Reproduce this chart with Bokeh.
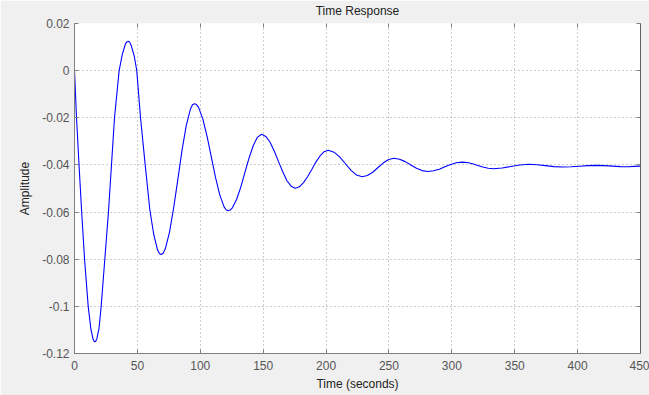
from bokeh.plotting import figure
from bokeh.models import Range1d, LinearAxis, FixedTicker, CustomJSTickFormatter
from bokeh.embed import file_html
from bokeh.resources import INLINE

# Time axis (seconds) and amplitude
time_s = [0.0, 1.6, 3.6, 5.7, 8.0, 10.9, 13.0, 14.8, 15.6, 16.2, 16.9,
          17.8, 19.5, 21.2, 24.1, 27.0, 29.4, 31.8, 35.5, 38.0, 40.5, 41.6, 42.7, 43.8,
          45.0, 47.5, 49.5, 52.5, 56.2, 59.9, 63.0, 66.0, 67.5, 68.9, 70.5,
          72.2, 75.5, 78.8, 82.2, 85.5, 88.8, 92.1, 93.8, 95.4, 97.0,
          98.75, 102.1, 105.45, 108.8, 112.15, 115.5, 118.85, 120.5, 122.2, 123.9,
          125.5, 128.85, 132.2, 135.5, 138.8, 142.15, 145.5, 148.8,
          152.1, 155.5, 158.8, 162.15, 165.5, 168.8, 172.2, 175.5,
          178.8, 182.1, 185.4, 188.65, 191.9, 195.2, 198.5, 201.8,
          206.3, 210.8, 215.25, 219.7, 224.2, 228.7,
          232.9, 237.1, 241.35, 245.6, 249.8, 254.0,
          258.5, 262.9, 267.4, 271.9, 276.3, 280.8,
          285.4, 290.1, 294.5, 299.1, 303.6, 308.2,
          312.3, 316.5, 320.6, 324.7, 328.9, 333.0,
          340.0, 347.0, 354.0, 361.0,
          367.75, 374.5, 381.25, 388.0,
          394.75, 401.5, 408.25, 415.0,
          421.4, 427.75, 434.1, 440.5, 445.0, 450.0]
amplitude = [0.0, -0.020, -0.040, -0.060, -0.080, -0.100, -0.1096, -0.1140, -0.1148, -0.1150, -0.1148,
             -0.1137, -0.1093, -0.100, -0.080, -0.060, -0.040, -0.020, 0.0, 0.0069, 0.0113, 0.0122, 0.0125, 0.0122,
             0.0108, 0.0062, 0.0, -0.020, -0.040, -0.059, -0.0695, -0.0760, -0.0776, -0.0780, -0.0775,
             -0.0756, -0.0686, -0.0583, -0.0460, -0.0337, -0.0234, -0.0164, -0.0145, -0.0140, -0.0144,
             -0.0157, -0.0207, -0.0280, -0.0367, -0.0454, -0.0527, -0.0577, -0.0590, -0.0594, -0.0591,
             -0.0582, -0.05465, -0.0494, -0.0432, -0.0370, -0.03175, -0.0282, -0.0270,
             -0.0279, -0.0304, -0.0341, -0.0385, -0.0428, -0.0466, -0.0490, -0.0499,
             -0.0493, -0.0475, -0.0449, -0.0419, -0.0388, -0.0362, -0.0344, -0.0338,
             -0.0346, -0.0366, -0.0394, -0.0422, -0.0443, -0.0450,
             -0.0445, -0.0431, -0.0411, -0.0391, -0.0377, -0.0372,
             -0.0376, -0.0386, -0.0400, -0.0414, -0.0424, -0.0428,
             -0.0425, -0.0418, -0.0408, -0.0398, -0.0391, -0.0388,
             -0.0390, -0.0395, -0.0402, -0.0409, -0.0414, -0.0416,
             -0.0413, -0.04065, -0.0400, -0.0397,
             -0.0399, -0.0403, -0.0407, -0.0409,
             -0.0408, -0.04055, -0.0403, -0.0402,
             -0.0403, -0.0405, -0.0407, -0.0408, -0.0406, -0.0405]

x_ticks = [0, 50, 100, 150, 200, 250, 300, 350, 400, 450]
y_ticks = [-0.12, -0.1, -0.08, -0.06, -0.04, -0.02, 0, 0.02]

FONT = "Liberation Sans"
AXIS_COLOR = "#808080"
LABEL_COLOR = "#555555"

p = figure(width=649, height=395, output_backend="svg", toolbar_location=None,
           x_range=Range1d(0, 450), y_range=Range1d(-0.12, 0.02),
           min_border_left=74, min_border_right=9, min_border_top=23, min_border_bottom=42,
           background_fill_color="white", border_fill_color="#f0f0f0",
           title="Time Response")
p.outline_line_color = None
p.title.align = "center"
p.title.vertical_align = "top"
p.title.text_font = FONT
p.title.text_font_size = "12px"
p.title.text_font_style = "normal"
p.title.text_color = "#222222"
p.title.standoff = 7

xa = p.below[0]
ya = p.left[0]

yfmt = CustomJSTickFormatter(code="""
let s = tick.toFixed(2).replace(/0+$/, '').replace(/\\.$/, '');
if (s === '-0') { s = '0'; }
return s;
""")
blank = CustomJSTickFormatter(code="return '';")

xa.ticker = FixedTicker(ticks=x_ticks)
xa.axis_label = "Time (seconds)"
ya.ticker = FixedTicker(ticks=y_ticks)
ya.formatter = yfmt
ya.axis_label = "Amplitude"

right = LinearAxis(ticker=FixedTicker(ticks=y_ticks), formatter=blank)
top = LinearAxis(ticker=FixedTicker(ticks=x_ticks), formatter=blank)
p.add_layout(right, "right")
p.add_layout(top, "above")

for ax in [xa, ya, right, top]:
    ax.axis_line_color = AXIS_COLOR
    ax.major_tick_line_color = AXIS_COLOR
    ax.major_tick_in = 4
    ax.major_tick_out = 0
    ax.minor_tick_line_color = None
    ax.major_label_text_font = FONT
    ax.major_label_text_color = LABEL_COLOR
    ax.axis_label_text_font = FONT
    ax.axis_label_text_font_style = "normal"
    ax.axis_label_text_color = "#222222"
for ax in [xa, ya]:
    ax.major_label_text_font_size = "12px"
    ax.axis_label_text_font_size = "12px"
xa.major_label_standoff = 7
xa.axis_label_standoff = 4
ya.major_label_standoff = 5
ya.axis_label_standoff = 7
right.axis_line_color = "#606060"
top.axis_line_color = None
top.major_label_standoff = 0
right.major_label_standoff = 0

p.xgrid.ticker = FixedTicker(ticks=x_ticks)
p.ygrid.ticker = FixedTicker(ticks=y_ticks)
for g in [p.xgrid[0], p.ygrid[0]]:
    g.grid_line_color = "#9a9a9a"
    g.grid_line_dash = "1 3"
    g.grid_line_width = 1

p.line(time_s, amplitude, line_color="#0000ff", line_width=1.1)

open("out.html", "w").write(file_html(p, INLINE))
